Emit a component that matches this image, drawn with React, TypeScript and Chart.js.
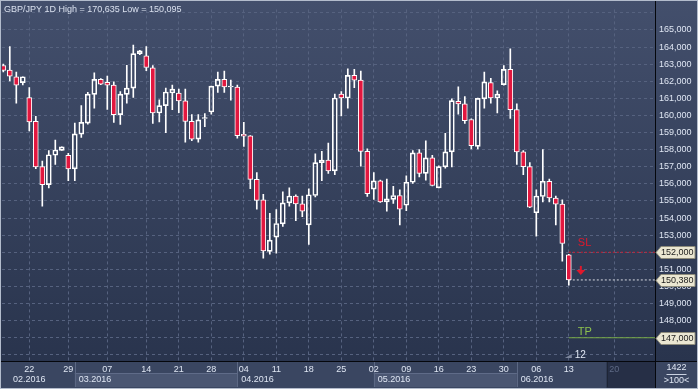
import React, { useEffect, useRef } from 'react';
import { Chart, registerables } from 'chart.js';

Chart.register(...registerables);

// ---- data (GBP/JPY daily, 2016) ----
const opens = [
  162.92, 162.65, 162.26, 161.92, 161.04, 159.66, 157.01, 155.95, 157.67, 157.96,
  157.66, 156.87, 158.90, 159.55, 161.23, 162.11, 161.94, 161.77, 160.05, 161.23,
  161.60, 163.61, 163.49, 162.78, 160.14, 160.57, 161.31, 161.31, 160.85, 159.65,
  158.61, 159.82, 160.20, 161.71, 162.11, 161.66, 161.66, 158.90, 158.80, 156.26,
  155.07, 152.05, 152.88, 153.66, 154.89, 155.29, 154.83, 153.60, 155.32, 157.24,
  157.39, 156.76, 161.25, 161.02, 162.34, 162.06, 157.90, 155.69, 156.17, 154.94,
  155.09, 155.32, 154.75, 156.09, 157.81, 156.61, 157.52, 155.76, 156.99, 157.87,
  160.83, 160.68, 159.76, 158.19, 160.97, 161.92, 161.02, 161.80, 162.69, 160.34,
  157.87, 157.01, 154.31, 155.26, 156.15, 155.17, 154.81, 151.85,
];
const highs = [
  163.00, 164.02, 162.53, 162.26, 161.63, 159.95, 157.33, 157.94, 158.56, 158.16,
  157.79, 159.55, 160.58, 161.35, 162.49, 162.15, 162.30, 161.96, 161.39, 162.93,
  164.12, 163.80, 164.02, 162.92, 160.91, 161.60, 161.77, 161.54, 161.54, 160.05,
  160.05, 160.11, 161.72, 162.53, 162.59, 162.07, 161.77, 159.59, 158.82, 156.66,
  155.38, 154.27, 154.50, 155.53, 155.76, 155.36, 155.29, 155.71, 157.75, 157.90,
  158.39, 161.25, 161.39, 162.72, 162.69, 162.59, 158.04, 156.66, 156.22, 156.28,
  155.86, 155.65, 156.47, 157.94, 158.00, 158.52, 157.66, 157.05, 158.96, 160.97,
  161.67, 161.10, 159.80, 161.02, 162.53, 162.17, 161.44, 162.92, 163.89, 160.68,
  157.94, 157.24, 155.65, 158.00, 156.28, 155.29, 155.07, 151.88,
];
const lows = [
  162.55, 162.02, 160.71, 161.79, 159.09, 156.89, 154.69, 155.76, 157.14, 157.96,
  156.18, 156.18, 158.71, 159.49, 160.43, 161.80, 160.35, 159.59, 159.48, 160.71,
  161.06, 163.55, 162.61, 159.53, 159.62, 158.99, 160.34, 160.16, 158.44, 158.52,
  158.44, 159.34, 160.07, 161.35, 161.35, 160.89, 158.67, 158.19, 155.72, 154.52,
  151.65, 151.88, 151.94, 153.51, 154.69, 153.85, 154.08, 152.45, 155.23, 156.18,
  156.61, 156.53, 159.97, 160.43, 161.63, 157.04, 155.26, 155.09, 154.92, 154.40,
  154.85, 153.60, 154.43, 156.03, 156.41, 156.22, 155.88, 155.76, 156.91, 156.99,
  160.07, 159.53, 158.04, 158.04, 160.43, 160.71, 160.14, 161.77, 159.82, 157.14,
  156.53, 154.60, 152.94, 154.94, 154.94, 153.60, 151.48, 150.07,
];
const closes = [
  162.63, 162.30, 161.77, 162.26, 159.62, 156.99, 155.95, 157.70, 157.98, 158.16,
  156.87, 158.92, 159.59, 161.25, 162.11, 161.83, 161.77, 160.05, 161.25, 161.60,
  163.61, 163.78, 162.80, 160.14, 160.57, 161.37, 161.54, 160.85, 159.65, 158.61,
  159.74, 159.87, 161.71, 162.11, 161.66, 161.72, 158.82, 158.79, 156.26, 155.03,
  152.07, 152.71, 153.68, 154.89, 155.29, 154.83, 154.40, 155.36, 157.24, 157.39,
  156.76, 161.02, 161.02, 162.34, 162.06, 157.90, 155.42, 156.17, 154.94, 155.12,
  155.32, 154.52, 156.09, 157.81, 156.61, 157.52, 155.90, 157.01, 157.87, 160.87,
  160.68, 159.70, 158.23, 161.00, 161.96, 161.02, 161.25, 162.69, 160.34, 157.87,
  157.01, 154.63, 155.29, 156.15, 155.17, 154.81, 152.51, 150.38,
];

const dayTickIdx = [4, 10, 16, 22, 27, 32, 37, 42, 47, 52, 57, 62, 67, 72, 77, 82, 87, 94];
const dayTickLabels = ['22', '29', '07', '14', '21', '28', '04', '11', '18', '25', '02', '09', '16', '23', '30', '06', '13', '20'];
const monthStartIdx = [-20, 11, 36, 57, 79];
const monthLabels = ['02.2016', '03.2016', '04.2016', '05.2016', '06.2016'];
const priceTicks = [146, 147, 148, 149, 150, 151, 152, 153, 154, 155, 156, 157, 158, 159, 160, 161, 162, 163, 164, 165, 166];
const priceLabelMin = 147;
const priceLabelMax = 165;

const slPrice = 152.0;
const lastPrice = 150.38;
const tpPrice = 147.0;
const levelStartIdx = 87;
const futureStartIdx = 92.8;
const titleText = 'GBP/JPY 1D High = 170,635 Low = 150,095';
const barCountText = '1422';
const zoomText = '>100<';
const markerText = '12';

const X_MIN = -0.2;
const X_MAX = 100.26;
const Y_MIN = 145.64;
const Y_MAX = 166.2;

const FONT = "'Liberation Sans', Arial, sans-serif";
const fmt = (v: number) => {
  const s = v.toFixed(3);
  const [a, b] = s.split('.');
  return `${a},${b}`;
};

export default function App() {
  const ref = useRef<HTMLCanvasElement>(null);

  useEffect(() => {
    document.body.style.margin = '0';
    const canvas = ref.current!;
    const idx = opens.map((_, i) => i);
    const upper = idx.map((i) => ({ x: i, y: [Math.max(opens[i], closes[i]), highs[i]] }));
    const lower = idx.map((i) => ({ x: i, y: [lows[i], Math.min(opens[i], closes[i])] }));
    const bodies = idx.map((i) => ({ x: i, y: [opens[i], closes[i]] }));
    const bodyColors = idx.map((i) => (closes[i] < opens[i] ? '#e2173f' : 'rgba(0,0,0,0)'));

    const panelPlugin = {
      id: 'panel',
      beforeDraw(chart: any) {
        const { ctx, width, height, chartArea } = chart;
        const xs = chart.scales.x;
        const px = (v: number) => xs.getPixelForValue(v);
        ctx.save();
        const g = ctx.createLinearGradient(0, 0, 0, chartArea.bottom);
        g.addColorStop(0, '#434f6c');
        g.addColorStop(1, '#29344d');
        ctx.fillStyle = g;
        ctx.fillRect(0, 0, width, height);
        const pTop = chartArea.bottom;
        ctx.fillStyle = '#3a4661';
        ctx.fillRect(0, pTop, width, height - pTop);
        const rowTop = pTop + 12;
        const fx = px(futureStartIdx);
        for (let m = 0; m < monthStartIdx.length; m++) {
          const s = Math.max(px(monthStartIdx[m]), 0);
          const e = m < monthStartIdx.length - 1 ? px(monthStartIdx[m + 1]) : fx;
          if (m % 2 === 1) {
            ctx.fillStyle = '#4a5672';
            ctx.fillRect(s, rowTop, e - s, height - rowTop - 2);
            ctx.strokeStyle = '#5f6b88';
            ctx.lineWidth = 1;
            ctx.beginPath();
            ctx.moveTo(s, rowTop + 0.5);
            ctx.lineTo(e, rowTop + 0.5);
            ctx.stroke();
          }
          if (m > 0) {
            ctx.strokeStyle = '#5c6884';
            ctx.beginPath();
            ctx.moveTo(Math.round(s) + 0.5, pTop);
            ctx.lineTo(Math.round(s) + 0.5, height - 2);
            ctx.stroke();
          }
        }
        ctx.fillStyle = '#262f46';
        ctx.fillRect(fx, pTop, chartArea.right - fx, height - pTop);
        ctx.strokeStyle = '#1e2536';
        ctx.beginPath();
        ctx.moveTo(Math.round(fx) + 0.5, pTop);
        ctx.lineTo(Math.round(fx) + 0.5, height - 2);
        ctx.stroke();
        ctx.fillStyle = '#3a4661';
        ctx.fillRect(chartArea.right, pTop, width - chartArea.right, height - pTop);
        ctx.restore();
      },
      afterDraw(chart: any) {
        const { ctx, width, height, chartArea } = chart;
        const xs = chart.scales.x;
        const ys = chart.scales.y;
        const px = (v: number) => xs.getPixelForValue(v);
        const py = (v: number) => ys.getPixelForValue(v);
        const pTop = chartArea.bottom;
        const right = chartArea.right;
        ctx.save();
        // month labels
        ctx.font = `9px ${FONT}`;
        ctx.fillStyle = '#dfe6f3';
        ctx.textBaseline = 'middle';
        ctx.textAlign = 'left';
        for (let m = 0; m < monthStartIdx.length; m++) {
          const s = px(monthStartIdx[m]);
          ctx.fillText(monthLabels[m], Math.max(s + 4, 13), pTop + 19);
        }
        // separators
        ctx.strokeStyle = '#05070c';
        ctx.lineWidth = 1;
        ctx.beginPath();
        ctx.moveTo(Math.round(right) + 0.5, 0);
        ctx.lineTo(Math.round(right) + 0.5, height);
        ctx.moveTo(0, Math.round(pTop) + 0.5);
        ctx.lineTo(width, Math.round(pTop) + 0.5);
        ctx.stroke();
        // frame
        ctx.strokeStyle = '#b3bccc';
        ctx.lineWidth = 2;
        ctx.strokeRect(0, 0, width, height);
        // title
        ctx.font = `9px ${FONT}`;
        ctx.fillStyle = '#d9e0ee';
        ctx.textBaseline = 'alphabetic';
        ctx.fillText(titleText, 4, 11.5);
        // level annotations
        const lx = px(levelStartIdx);
        ctx.font = `11px ${FONT}`;
        ctx.textBaseline = 'middle';
        ctx.fillStyle = '#e0182c';
        ctx.fillText('SL', lx + 9, py(slPrice) - 9);
        ctx.fillStyle = '#8dc24e';
        ctx.fillText('TP', lx + 9, py(tpPrice) - 6);
        // red down arrow
        const ax = lx + 12;
        const ay = py(lastPrice) - 6;
        ctx.fillStyle = '#e0182c';
        ctx.fillRect(ax - 1, ay - 8, 2, 5);
        ctx.beginPath();
        ctx.moveTo(ax - 4.5, ay - 4);
        ctx.lineTo(ax + 4.5, ay - 4);
        ctx.lineTo(ax, ay + 1);
        ctx.closePath();
        ctx.fill();
        // bar marker
        ctx.fillStyle = '#7c869c';
        ctx.beginPath();
        ctx.moveTo(lx - 4, pTop - 3);
        ctx.lineTo(lx + 3, pTop - 3);
        ctx.lineTo(lx + 3, pTop - 7);
        ctx.closePath();
        ctx.fill();
        ctx.font = `10px ${FONT}`;
        ctx.fillStyle = '#e3e9f5';
        ctx.fillText(markerText, lx + 6, pTop - 6);
        // price tags
        const tag = (p: number) => {
          const yc = Math.round(py(p)) + 0.5;
          ctx.beginPath();
          ctx.moveTo(right + 1, yc);
          ctx.lineTo(right + 6, yc - 6);
          ctx.lineTo(width - 3, yc - 6);
          ctx.lineTo(width - 3, yc + 6);
          ctx.lineTo(right + 6, yc + 6);
          ctx.closePath();
          ctx.fillStyle = '#ebe7d2';
          ctx.fill();
          ctx.strokeStyle = '#8e8c7c';
          ctx.lineWidth = 1;
          ctx.stroke();
          ctx.fillStyle = '#1c1c1c';
          ctx.font = `9px ${FONT}`;
          ctx.textAlign = 'left';
          ctx.textBaseline = 'middle';
          ctx.fillText(fmt(p), right + 6, yc);
        };
        tag(slPrice);
        tag(lastPrice);
        tag(tpPrice);
        // corner box
        const cx = (right + width) / 2;
        ctx.fillStyle = '#dfe6f3';
        ctx.font = `9px ${FONT}`;
        ctx.textAlign = 'center';
        ctx.fillText(barCountText, cx, pTop + 7);
        ctx.fillText(zoomText, cx, pTop + 20);
        ctx.strokeStyle = '#c9d1e0';
        ctx.beginPath();
        ctx.moveTo(cx - 10, pTop + 13.5);
        ctx.lineTo(cx + 10, pTop + 13.5);
        ctx.stroke();
        ctx.restore();
      },
    };

    const chart = new Chart(canvas, {
      type: 'bar',
      data: {
        datasets: [
          {
            type: 'bar',
            data: bodies as any,
            backgroundColor: bodyColors,
            borderColor: '#ffffff',
            borderWidth: 1,
            borderSkipped: false,
            barThickness: 5,
            grouped: false,
            order: 0,
          } as any,
          {
            type: 'bar',
            data: upper as any,
            backgroundColor: '#ffffff',
            borderWidth: 0,
            barThickness: 1,
            grouped: false,
            order: 1,
          } as any,
          {
            type: 'bar',
            data: lower as any,
            backgroundColor: '#ffffff',
            borderWidth: 0,
            barThickness: 1,
            grouped: false,
            order: 1,
          } as any,
          {
            type: 'line',
            data: [{ x: levelStartIdx, y: slPrice }, { x: X_MAX, y: slPrice }],
            borderColor: '#d2182a',
            borderWidth: 1,
            borderDash: [2, 2],
            pointRadius: 0,
            order: 2,
          } as any,
          {
            type: 'line',
            data: [{ x: levelStartIdx, y: lastPrice }, { x: X_MAX, y: lastPrice }],
            borderColor: '#d6d9e0',
            borderWidth: 1,
            borderDash: [2, 2],
            pointRadius: 0,
            order: 2,
          } as any,
          {
            type: 'line',
            data: [{ x: levelStartIdx, y: tpPrice }, { x: X_MAX, y: tpPrice }],
            borderColor: '#78aa46',
            borderWidth: 1,
            pointRadius: 0,
            order: 2,
          } as any,
        ],
      },
      options: {
        responsive: false,
        devicePixelRatio: 1,
        animation: false,
        events: [],
        layout: { padding: { left: 2, top: 2, right: 1, bottom: 0 } },
        plugins: { legend: { display: false }, tooltip: { enabled: false }, title: { display: false } },
        scales: {
          x: {
            type: 'linear',
            min: X_MIN,
            max: X_MAX,
            offset: false,
            afterBuildTicks: (s: any) => {
              s.ticks = dayTickIdx.map((v) => ({ value: v }));
            },
            afterFit: (s: any) => {
              s.height = 28;
            },
            grid: { color: '#56627f', lineWidth: 1, drawTicks: false, offset: false },
            border: { display: false, dash: [3, 3] },
            ticks: {
              autoSkip: false,
              maxRotation: 0,
              padding: 3,
              font: { family: FONT, size: 9 },
              color: (c: any) => (c.index === dayTickIdx.length - 1 ? '#5e6a86' : '#dfe6f3'),
              callback: (_v: any, i: number) => dayTickLabels[i],
            },
          },
          y: {
            type: 'linear',
            position: 'right',
            min: Y_MIN,
            max: Y_MAX,
            afterBuildTicks: (s: any) => {
              s.ticks = priceTicks.map((v) => ({ value: v }));
            },
            afterFit: (s: any) => {
              s.width = 42;
            },
            grid: { color: '#56627f', lineWidth: 1, drawTicks: false },
            border: { display: false, dash: [3, 3] },
            ticks: {
              padding: 4,
              font: { family: FONT, size: 9 },
              color: '#dfe6f3',
              callback: (v: any) => {
                const n = Number(v);
                return n >= priceLabelMin && n <= priceLabelMax ? `${n},000` : '';
              },
            },
          },
        },
      } as any,
      plugins: [panelPlugin],
    });
    return () => chart.destroy();
  }, []);

  return <canvas ref={ref} width={698} height={389} style={{ display: 'block' }} />;
}
